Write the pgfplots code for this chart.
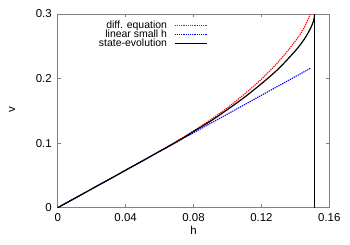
\documentclass[border=0pt]{standalone}
\usepackage{fontspec}
\setmainfont{Liberation Sans}
\usepackage{pgfplots}
\pgfplotsset{compat=1.18}
\definecolor{frame}{RGB}{128,128,128}
\begin{document}
\fontsize{11.5}{13}\selectfont
\begin{tikzpicture}
\begin{axis}[
  scale only axis,
  width=271.6bp, height=193.7bp,
  at={(0,0)}, anchor=south west,
  xmin=0, xmax=0.16, ymin=0, ymax=0.3,
  xtick={0,0.04,0.08,0.12,0.16},
  xticklabels={0,0.04,0.08,0.12,0.16},
  ytick={0,0.1,0.2,0.3},
  yticklabels={0,0.1,0.2,0.3},
  tick align=inside,
  major tick length=3.5bp,
  axis line style={frame, line width=0.8pt},
  every tick/.style={frame, line width=0.6pt},
  /pgf/number format/assume math mode=true,
  xticklabel style={font=\fontsize{11.5}{13}\selectfont, yshift=-1.5bp},
  yticklabel style={font=\fontsize{11.5}{13}\selectfont, xshift=-2bp},
  xlabel={h}, ylabel={v},
  xlabel style={at={(axis description cs:0.5,-0.115)}, anchor=center, font=\fontsize{11.5}{13}\selectfont},
  ylabel style={at={(axis description cs:-0.168,0.504)}, anchor=center, font=\fontsize{11.5}{13}\selectfont},
  legend style={at={(axis description cs:0.553,0.97)}, anchor=north east, draw=none, fill=none,
    font=\fontsize{10.5}{11}\selectfont, row sep=0pt, inner sep=0.5bp,
    nodes={inner sep=0pt}, column sep=7bp},
  legend cell align=right,
  legend plot pos=right,
  legend image post style={},
  legend image code/.code={\draw[#1] (0bp,0bp) -- (32bp,0bp);},
  clip=true,
]
\addplot[red, line width=1.1pt, dash pattern=on 1.3pt off 0.9pt, smooth] coordinates {
(0,0) (0.02,0.029) (0.04,0.058) (0.06,0.0875) (0.07,0.103) (0.08,0.119)
(0.09,0.136) (0.10,0.155) (0.11,0.176) (0.12,0.199) (0.13,0.226)
(0.14,0.258) (0.145,0.278) (0.1488,0.300)
};
\addlegendentry{diff. equation}
\addplot[blue, line width=1.1pt, dash pattern=on 1.3pt off 0.9pt] coordinates {
(0,0) (0.1488,0.2158)
};
\addlegendentry{linear small h}
\addplot[black, line width=1.2pt, smooth] coordinates {
(0,0) (0.04,0.058) (0.07,0.102) (0.08,0.118) (0.09,0.134) (0.10,0.152)
(0.11,0.171) (0.12,0.192) (0.13,0.215) (0.14,0.243) (0.145,0.260)
(0.148,0.273) (0.150,0.284) (0.1508,0.290) (0.1513,0.298)
};
\addlegendentry{state-evolution}
\addplot[black, line width=0.6pt, forget plot] coordinates {(0.1513,0) (0.1513,0.3)};
\end{axis}
\pgfresetboundingbox
\path (-57.7bp,-37.3bp) rectangle (292.3bp,207.7bp);
\end{tikzpicture}
\end{document}
